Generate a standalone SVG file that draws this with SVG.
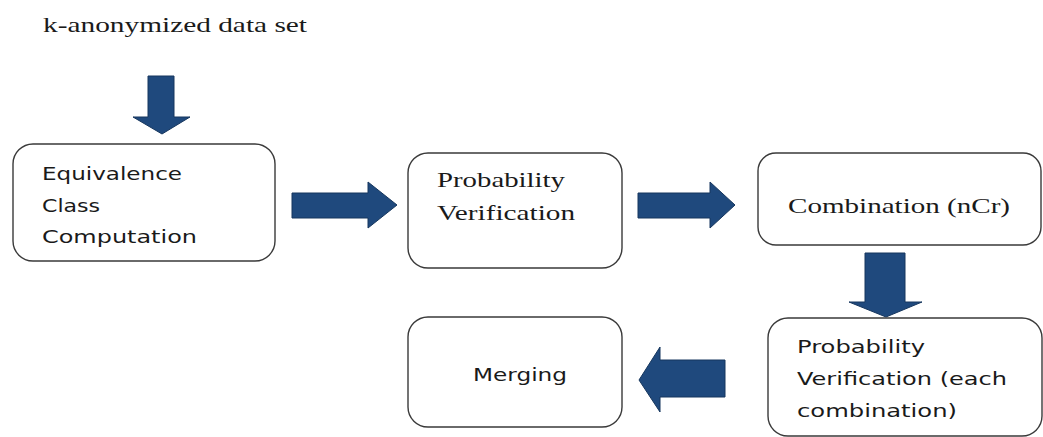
<svg xmlns="http://www.w3.org/2000/svg" width="1043" height="437" viewBox="0 0 1043 437">
<style>
.box{fill:#fff;stroke:#3a3a3a;stroke-width:1.4}
.arr{fill:#1f497d;stroke:#17375e;stroke-width:1}
.sans{font-family:"DejaVu Sans","Liberation Sans",sans-serif;font-size:18.5px;fill:#1a1a1a}
.serif{font-family:"Liberation Serif","DejaVu Serif",serif;font-size:21px;fill:#1a1a1a}
</style>
<rect width="1043" height="437" fill="#fff"/>
<text class="serif" x="43" y="32" font-size="18" textLength="264" lengthAdjust="spacingAndGlyphs">k-anonymized data set</text>
<g id="connectors">
<path class="arr" d="M148,76 H174 V117 H190 L162,134 L133,117 H148 Z"/>
<path class="arr" d="M292,193 H368 V182 L397,205 L368,228 V218 H292 Z"/>
<path class="arr" d="M638,193 H710 V182 L735,205 L710,228 V218 H638 Z"/>
<path class="arr" d="M865,253 H905 V302 H922 L886,317 L849,302 H865 Z"/>
<path class="arr" d="M725,360 H660 V347 L639,380 L660,412 V397 H725 Z"/>
</g>
<g id="equivalence">
<rect class="box" x="13" y="144" width="262" height="117" rx="20"/>
<text class="sans" x="42" y="180" textLength="140" lengthAdjust="spacingAndGlyphs">Equivalence</text>
<text class="sans" x="42" y="212" textLength="58" lengthAdjust="spacingAndGlyphs">Class</text>
<text class="sans" x="42" y="243" textLength="155" lengthAdjust="spacingAndGlyphs">Computation</text>
</g>
<g id="probability">
<rect class="box" x="408" y="153" width="214" height="115" rx="20"/>
<text class="serif" x="437" y="187" textLength="128" lengthAdjust="spacingAndGlyphs">Probability</text>
<text class="serif" x="437" y="220" textLength="138" lengthAdjust="spacingAndGlyphs">Verification</text>
</g>
<g id="combination">
<rect class="box" x="758" y="153" width="283" height="92" rx="18"/>
<text class="serif" x="788" y="213" font-size="19" textLength="222" lengthAdjust="spacingAndGlyphs">Combination (nCr)</text>
</g>
<g id="probability-each">
<rect class="box" x="768" y="318" width="274" height="118" rx="20"/>
<text class="sans" x="797" y="353" textLength="128" lengthAdjust="spacingAndGlyphs">Probability</text>
<text class="sans" x="797" y="385" textLength="210" lengthAdjust="spacingAndGlyphs">Verification (each</text>
<text class="sans" x="797" y="417" textLength="160" lengthAdjust="spacingAndGlyphs">combination)</text>
</g>
<g id="merging">
<rect class="box" x="408" y="317" width="214" height="110" rx="20"/>
<text class="sans" x="473" y="381" textLength="94" lengthAdjust="spacingAndGlyphs">Merging</text>
</g>
</svg>
